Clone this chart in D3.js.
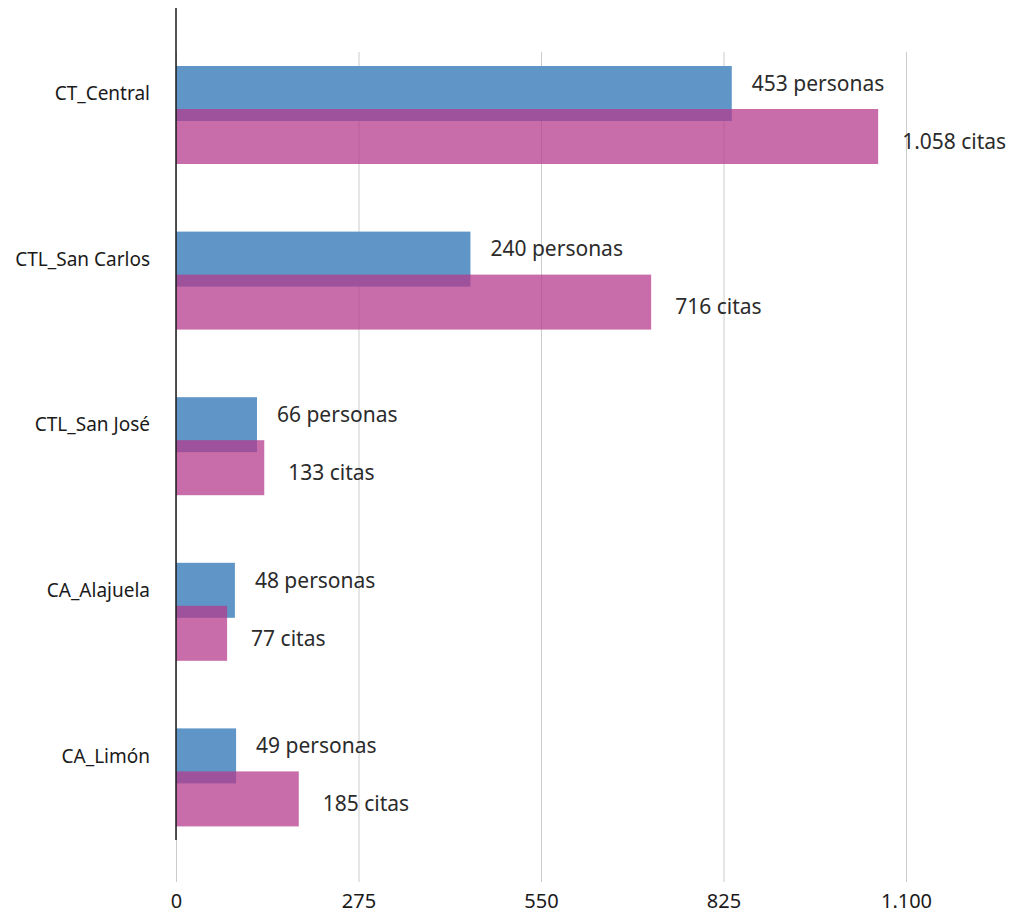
<!DOCTYPE html>
<html>
<head>
<meta charset="utf-8">
<script src="https://cdn.jsdelivr.net/npm/d3@7"></script>
<style>
	body { margin: 0; background: #fff; }
	text { font-family: "Noto Sans", sans-serif; }
</style>
</head>
<body>
<div id="chart"></div>
<script>
// datos por centro
var categories = ["CT_Central", "CTL_San Carlos", "CTL_San José", "CA_Alajuela", "CA_Limón"];
var personas = [453, 240, 66, 48, 49];
var citas = [1058, 716, 133, 77, 185];
var tickValues = [0, 275, 550, 825, 1100];

var w = 1010,
	h = 915,
	left = 176,
	right = 906,
	gridTop = 52,
	gridBottom = 882,
	barH = 55;

// separador de miles con punto
var locale = d3.formatLocale({decimal: ",", thousands: ".", grouping: [3], currency: ["", ""]});
var fmt = locale.format(",");

var x = d3.scaleLinear().domain([0, 1100]).range([left, right]);
// las personas van en otra escala (eje secundario oculto)
var x2 = d3.scaleLinear().domain([0, 595]).range([left, right]);
var y = d3.scaleBand().domain(categories).range([gridTop, 880]);

var rows = categories.map(function(c, i) {
	return {cat: c, p: personas[i], c: citas[i]};
});

var svg = d3.select("#chart")
	.append("svg")
	.attr("width", w)
	.attr("height", h);

// rejilla + etiquetas del eje
var xAxis = svg.append("g")
	.attr("transform", "translate(0," + gridBottom + ")")
	.call(d3.axisBottom(x)
		.tickValues(tickValues)
		.tickSize(-(gridBottom - gridTop))
		.tickPadding(12)
		.tickFormat(fmt));

xAxis.select(".domain").remove();
xAxis.selectAll(".tick line")
	.attr("stroke", "#cccccc")
	.attr("stroke-width", 1);
xAxis.selectAll(".tick text")
	.attr("fill", "#1a1a1a")
	.style("font-size", "20px")
	.style("font-family", "'Noto Sans', sans-serif");

// barras de personas
svg.selectAll(".bar-p")
	.data(rows)
	.enter()
	.append("rect")
	.attr("class", "bar-p")
	.attr("x", x2(0))
	.attr("y", function(d) { return y(d.cat) + 14; })
	.attr("width", function(d) { return x2(d.p) - x2(0); })
	.attr("height", barH)
	.attr("fill", "#5f96c7");

// barras de citas, encima y algo transparentes
svg.selectAll(".bar-c")
	.data(rows)
	.enter()
	.append("rect")
	.attr("class", "bar-c")
	.attr("x", x(0))
	.attr("y", function(d) { return y(d.cat) + 57; })
	.attr("width", function(d) { return x(d.c) - x(0); })
	.attr("height", barH)
	.attr("fill", "#b63a8c")
	.attr("fill-opacity", 0.74);

// eje vertical
svg.append("line")
	.attr("x1", x(0))
	.attr("x2", x(0))
	.attr("y1", 8)
	.attr("y2", 840)
	.attr("stroke", "#1a1a1a")
	.attr("stroke-width", 1.5);

// nombres de los centros
svg.selectAll(".cat")
	.data(rows)
	.enter()
	.append("text")
	.attr("class", "cat")
	.attr("x", 150)
	.attr("y", function(d) { return y(d.cat) + 14 + barH / 2; })
	.attr("dy", ".35em")
	.style("text-anchor", "end")
	.style("font-size", "19px")
	.attr("fill", "#1a1a1a")
	.text(function(d) { return d.cat; });

// etiquetas de valores
svg.selectAll(".lab-p")
	.data(rows)
	.enter()
	.append("text")
	.attr("class", "lab-p")
	.attr("x", function(d) { return x2(d.p) + 20; })
	.attr("y", function(d) { return y(d.cat) + 14 + barH / 2 - 10; })
	.attr("dy", ".35em")
	.style("font-size", "21px")
	.attr("fill", "#2b2b2b")
	.text(function(d) { return fmt(d.p) + " personas"; });

svg.selectAll(".lab-c")
	.data(rows)
	.enter()
	.append("text")
	.attr("class", "lab-c")
	.attr("x", function(d) { return x(d.c) + 24; })
	.attr("y", function(d) { return y(d.cat) + 57 + barH / 2 + 5; })
	.attr("dy", ".35em")
	.style("font-size", "21px")
	.attr("fill", "#2b2b2b")
	.text(function(d) { return fmt(d.c) + " citas"; });
</script>
</body>
</html>
